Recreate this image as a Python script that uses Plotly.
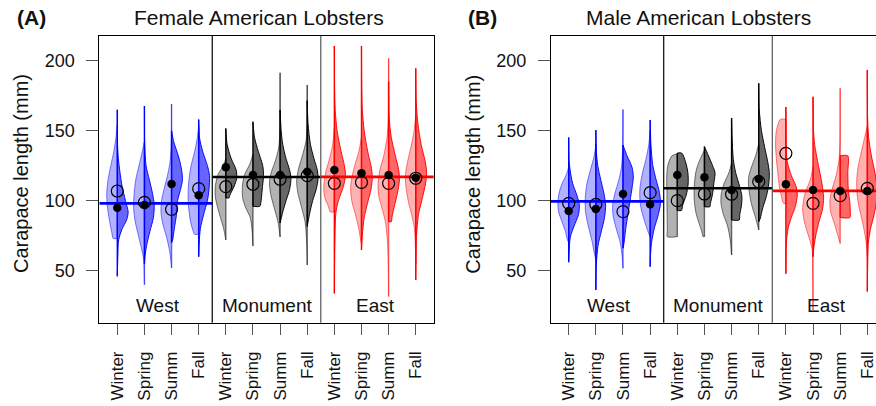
import plotly.graph_objects as go

# ---------------- data ----------------
SEASONS = ["Winter", "Spring", "Summ", "Fall"]
REGIONS = ["West", "Monument", "East"]
TICK_LABELS = SEASONS * 3
POSITIONS = list(range(1, 13))
REGION_LABEL_POS = [2.5, 6.5, 10.5]
REGION_BREAKS = [4.5, 8.5]
Y_TICKS = [50, 100, 150, 200]

# open circle = lighter (left) group, filled dot = darker (right) group
F_OPEN = [106.9, 98.8, 93.8, 108.6, 110.0, 111.7, 115.3, 117.9, 112.4, 113.1, 112.4, 116.0]
F_FILLED = [95.0, 96.9, 111.9, 103.8, 123.8, 118.4, 118.4, 120.7, 121.9, 119.6, 118.4, 116.4]
M_OPEN = [98.1, 97.4, 92.2, 105.7, 100.0, 104.8, 104.6, 113.6, 133.8, 98.1, 103.6, 108.8]
M_FILLED = [92.6, 94.0, 104.8, 97.4, 118.4, 116.7, 107.6, 115.5, 111.7, 107.6, 106.9, 106.9]
F_REGION_MEAN = [98.1, 116.9, 117.0]
M_REGION_MEAN = [99.5, 108.9, 107.0]

# half-violin outlines: [carapace length (mm), half width (category units)]
F_LIGHT = [
    [[154, 0], [145, .05], [135, .13], [125, .24], [115, .34], [105, .39], [95, .36], [85, .28], [77, .2], [73, .15]],
    [[142, 0], [135, .08], [125, .2], [115, .32], [105, .38], [95, .4], [85, .34], [75, .22], [65, .1], [58, .03], [40, 0]],
    [[169, 0], [140, .01], [127, .06], [118, .15], [108, .28], [100, .37], [92, .39], [84, .33], [75, .2], [65, .08], [58, .03], [52, 0]],
    [[153, 0], [145, .05], [135, .15], [125, .28], [115, .36], [105, .39], [95, .37], [85, .3], [78, .2], [76, .15]],
    [[130, 0], [125, .1], [118, .3], [110, .39], [102, .38], [95, .3], [88, .2], [80, .08], [72, 0]],
    [[133, 0], [126, .12], [118, .32], [110, .39], [102, .38], [95, .27], [88, .1], [78, .03], [67.6, 0]],
    [[191.4, 0], [150, .01], [138, .05], [128, .18], [120, .33], [113, .39], [105, .35], [95, .22], [85, .08], [74, 0]],
    [[182.6, 0], [150, .01], [142, .05], [132, .18], [122, .33], [114, .39], [106, .35], [96, .22], [85, .08], [70, .02], [54, 0]],
    [[151.6, 0], [140, .06], [130, .18], [120, .32], [110, .39], [102, .35], [96, .22], [92, .15]],
    [[145, 0], [135, .1], [125, .25], [115, .37], [108, .4], [100, .36], [90, .22], [80, .1], [72, .03], [69.5, 0]],
    [[201.7, 0], [160, .01], [145, .06], [132, .18], [122, .32], [112, .39], [104, .37], [95, .25], [85, .12], [70, .04], [50, .01], [31.5, 0]],
    [[162, 0], [150, .06], [138, .18], [128, .3], [118, .38], [110, .36], [100, .28], [90, .15], [80, .05], [65, .01], [55, 0]],
]
F_DARK = [
    [[165, 0], [140, .01], [130, .04], [120, .1], [110, .18], [100, .3], [92, .4], [86, .34], [80, .18], [72, .05], [60, .02], [46, 0]],
    [[167.6, 0], [140, .01], [125, .06], [115, .18], [105, .3], [97, .36], [88, .33], [78, .2], [68, .08], [60, .02], [55, 0]],
    [[150, 0], [142, .08], [132, .25], [122, .37], [115, .4], [108, .33], [100, .22], [90, .18], [80, .1], [72, .04], [70, 0]],
    [[158, 0], [145, .03], [135, .15], [125, .32], [118, .4], [108, .38], [100, .32], [90, .18], [80, .06], [70, .02], [60, 0]],
    [[151.6, 0], [140, .05], [130, .2], [122, .38], [116, .4], [110, .3], [104, .15], [102, .12]],
    [[156.4, 0], [145, .06], [135, .2], [125, .36], [118, .39], [110, .35], [100, .3], [96, .25]],
    [[164.8, 0], [150, .04], [140, .1], [130, .22], [122, .35], [116, .4], [108, .35], [100, .22], [92, .1], [84, 0]],
    [[171.4, 0], [155, .03], [140, .12], [130, .25], [122, .37], [116, .4], [108, .33], [100, .2], [90, .08], [81.5, 0]],
    [[210.5, 0], [180, .01], [165, .03], [150, .1], [135, .25], [125, .37], [118, .41], [110, .33], [100, .15], [92, .06], [70, .02], [33.8, 0]],
    [[210.5, 0], [180, .01], [165, .03], [150, .1], [135, .23], [125, .35], [117, .4], [108, .35], [98, .22], [88, .1], [75, .03], [64.8, 0]],
    [[185, 0], [160, .02], [145, .1], [132, .25], [122, .37], [115, .4], [105, .32], [95, .2], [88, .12], [85, .1]],
    [[194.5, 0], [170, .02], [155, .08], [140, .2], [128, .35], [120, .4], [112, .36], [100, .22], [90, .1], [75, .03], [43.4, 0]],
]
M_LIGHT = [
    [[124, 0], [118, .1], [112, .25], [105, .36], [98, .4], [92, .37], [85, .25], [78, .12], [72, .05], [70, 0]],
    [[140.4, 0], [132, .06], [122, .2], [112, .33], [102, .39], [92, .38], [82, .28], [72, .15], [62, .05], [57.6, 0]],
    [[165.2, 0], [140, .01], [125, .05], [115, .15], [105, .3], [97, .38], [90, .37], [80, .25], [70, .1], [60, .03], [51.7, 0]],
    [[150.4, 0], [140, .05], [130, .15], [120, .28], [110, .37], [102, .38], [94, .33], [85, .2], [78, .08], [74, 0]],
    [[133.3, 0], [132, .2], [125, .35], [115, .39], [105, .38], [95, .38], [85, .37], [78, .37], [74.3, .37]],
    [[136, 0], [130, .15], [122, .3], [112, .37], [102, .38], [92, .32], [84, .2], [78, .1], [74.3, .05]],
    [[126.7, 0], [120, .1], [112, .28], [105, .38], [98, .39], [90, .3], [82, .15], [72, .05], [61.2, 0]],
    [[141, 0], [133, .1], [125, .25], [118, .36], [112, .38], [105, .34], [97, .26], [88, .12], [79.1, 0]],
    [[158.1, .2], [150, .35], [140, .38], [130, .35], [120, .3], [110, .24], [102, .15], [98, .08]],
    [[124, 0], [115, .1], [105, .3], [95, .38], [88, .35], [80, .25], [72, .12], [64.8, .03], [45, .01], [21.9, 0]],
    [[180.2, 0], [140, .01], [128, .05], [118, .15], [108, .3], [100, .38], [92, .35], [84, .22], [76, .1], [69.5, 0]],
    [[153, 0], [145, .1], [135, .22], [125, .33], [115, .39], [105, .38], [95, .3], [85, .18], [75, .08], [65, .01], [60, 0]],
]
M_DARK = [
    [[145.2, 0], [130, .01], [122, .05], [112, .15], [104, .3], [97, .39], [90, .36], [82, .2], [74, .06], [65, .02], [56.1, 0]],
    [[150.4, 0], [135, .02], [125, .07], [115, .18], [105, .3], [97, .36], [88, .32], [78, .2], [68, .08], [55, .02], [36.2, 0]],
    [[139.8, 0], [132, .15], [124, .33], [117, .38], [110, .34], [100, .26], [90, .18], [80, .1], [70, .04], [66, 0]],
    [[157.6, 0], [140, .03], [125, .1], [115, .22], [106, .34], [98, .38], [90, .3], [80, .15], [70, .05], [60, .01], [52.9, 0]],
    [[134, .16], [128, .3], [120, .39], [112, .4], [104, .33], [97, .2], [93, .15]],
    [[138.6, 0], [132, .15], [125, .3], [120, .39], [113, .35], [105, .3], [98, .22], [95.7, .2]],
    [[159, 0], [145, .02], [130, .06], [120, .15], [110, .3], [103, .38], [96, .36], [90, .3], [86.2, .28]],
    [[183.8, 0], [165, .02], [150, .1], [138, .22], [128, .33], [120, .39], [112, .37], [103, .28], [95, .15], [87, .05], [84.9, 0]],
    [[166.9, 0], [140, .01], [128, .05], [118, .2], [110, .38], [104, .42], [96, .35], [88, .2], [80, .08], [70, .02], [47.9, 0]],
    [[174.3, 0], [150, .02], [140, .06], [125, .2], [112, .33], [102, .39], [94, .35], [85, .22], [75, .1], [65, .02], [60, 0]],
    [[132, .28], [120, .28], [108, .3], [98, .36], [92, .37], [88, .36]],
    [[193.3, 0], [160, .01], [145, .05], [132, .15], [120, .28], [110, .35], [100, .34], [90, .25], [80, .12], [70, .04], [50, .01], [35.1, 0]],
]

# ---------------- styling ----------------
REGION_RGB = [(0, 0, 255), (0, 0, 0), (255, 0, 0)]
FONT = "Liberation Sans, Arial, sans-serif"
TXT = "#111111"


def rgba(rgb, a):
    return f"rgba({rgb[0]},{rgb[1]},{rgb[2]},{a})"


fig = go.Figure()


def add_panel(xa, ya, light, dark, opens, filled, means, xlo):
    for i, cx in enumerate(POSITIONS):
        rgb = REGION_RGB[i // 4]
        for prof, side, fa, la in ((light[i], -1, 0.30, 0.5), (dark[i], 1, 0.60, 0.95)):
            ys = [p[0] for p in prof]
            xs = [cx + side * p[1] for p in prof]
            fig.add_trace(go.Scatter(
                x=[cx] + xs + [cx], y=[ys[0]] + ys + [ys[-1]],
                mode="lines", fill="toself", fillcolor=rgba(rgb, fa),
                line=dict(color=rgba(rgb, la), width=1, shape="spline", smoothing=0.8),
                hoverinfo="skip", showlegend=False, xaxis=xa, yaxis=ya))
        for prof, la in ((light[i], 0.55), (dark[i], 1.0)):
            ys = [p[0] for p in prof]
            fig.add_trace(go.Scatter(
                x=[cx, cx], y=[max(ys), min(ys)], mode="lines",
                line=dict(color=rgba(rgb, la), width=1.4),
                hoverinfo="skip", showlegend=False, xaxis=xa, yaxis=ya))
    edges = [xlo] + REGION_BREAKS + [13.5]
    for r in range(3):
        fig.add_trace(go.Scatter(
            x=[edges[r], edges[r + 1]], y=[means[r], means[r]], mode="lines",
            line=dict(color=rgba(REGION_RGB[r], 1), width=2.6),
            hoverinfo="skip", showlegend=False, xaxis=xa, yaxis=ya))
    fig.add_trace(go.Scatter(
        x=POSITIONS, y=opens, mode="markers",
        marker=dict(symbol="circle-open", size=12, color="black", line=dict(width=1.2, color="black")),
        showlegend=False, xaxis=xa, yaxis=ya))
    fig.add_trace(go.Scatter(
        x=POSITIONS, y=filled, mode="markers",
        marker=dict(symbol="circle", size=8.5, color="black"),
        showlegend=False, xaxis=xa, yaxis=ya))


XR_A = [0.3365, 12.662]
XR_B = [0.348, 12.32]
YR = [12.86, 217.6]

add_panel("x", "y", F_LIGHT, F_DARK, F_OPEN, F_FILLED, F_REGION_MEAN, XR_A[0])
add_panel("x2", "y2", M_LIGHT, M_DARK, M_OPEN, M_FILLED, M_REGION_MEAN, XR_B[0])

xcommon = dict(tickmode="array", tickvals=POSITIONS, ticktext=TICK_LABELS, tickangle=-90,
               ticks="outside", ticklen=11, tickcolor="#555", tickwidth=1,
               showline=True, linecolor="black", linewidth=1, mirror=True,
               showgrid=False, zeroline=False, ticklabelstandoff=10,
               ticklabeloverflow="allow",
               tickfont=dict(family=FONT, size=17, color=TXT))
ycommon = dict(range=YR, tickmode="array", tickvals=Y_TICKS,
               ticks="outside", ticklen=12, tickcolor="#555", tickwidth=1,
               showline=True, linecolor="black", linewidth=1,
               showgrid=False, zeroline=False, ticklabelstandoff=8,
               tickfont=dict(family=FONT, size=18, color=TXT))

W, H = 876, 406
Y_TOP, Y_BOT = 36, 322.7
fig.update_layout(
    width=W, height=H, margin=dict(l=0, r=0, t=0, b=0),
    paper_bgcolor="white", plot_bgcolor="white", showlegend=False,
    xaxis=dict(domain=[99.3 / W, 433.7 / W], range=XR_A, anchor="y", **xcommon),
    yaxis=dict(domain=[(H - Y_BOT) / H, (H - Y_TOP) / H], anchor="x", mirror=True, **ycommon),
    xaxis2=dict(domain=[551 / W, 1.0], range=XR_B, anchor="y2", **xcommon),
    yaxis2=dict(domain=[(H - Y_BOT) / H, (H - Y_TOP) / H], anchor="x2", mirror=False, **ycommon),
)

shapes = []
for xr, yr in (("x", "y domain"), ("x2", "y2 domain")):
    for j, b in enumerate(REGION_BREAKS):
        shapes.append(dict(type="line", xref=xr, yref=yr, x0=b, x1=b, y0=0, y1=1,
                           line=dict(color="black" if j == 0 else "#555", width=1.2)))
fig.update_layout(shapes=shapes)

ann = []
for xr, yr in (("x", "y"), ("x2", "y2")):
    for name, pos in zip(REGIONS, REGION_LABEL_POS):
        ann.append(dict(text=name, x=pos, y=24.9, xref=xr, yref=yr, showarrow=False,
                        xanchor="center", yanchor="middle",
                        font=dict(family=FONT, size=19, color=TXT)))
titles = [("Female American Lobsters", 259), ("Male American Lobsters", 698)]
for t, px in titles:
    ann.append(dict(text=t, x=px / W, y=(H - 18) / H, xref="paper", yref="paper",
                    showarrow=False, xanchor="center", yanchor="middle",
                    font=dict(family=FONT, size=21, color=TXT)))
for t, px in (("<b>(A)</b>", 31), ("<b>(B)</b>", 482)):
    ann.append(dict(text=t, x=px / W, y=(H - 18) / H, xref="paper", yref="paper",
                    showarrow=False, xanchor="center", yanchor="middle",
                    font=dict(family=FONT, size=21, color=TXT)))
for px in (21, 472.7):
    ann.append(dict(text="Carapace length (mm)", x=px / W, y=(H - 174) / H,
                    xref="paper", yref="paper", showarrow=False, textangle=-90,
                    xanchor="center", yanchor="middle",
                    font=dict(family=FONT, size=20, color=TXT)))
fig.update_layout(annotations=ann)

fig.write_html("out.html")
